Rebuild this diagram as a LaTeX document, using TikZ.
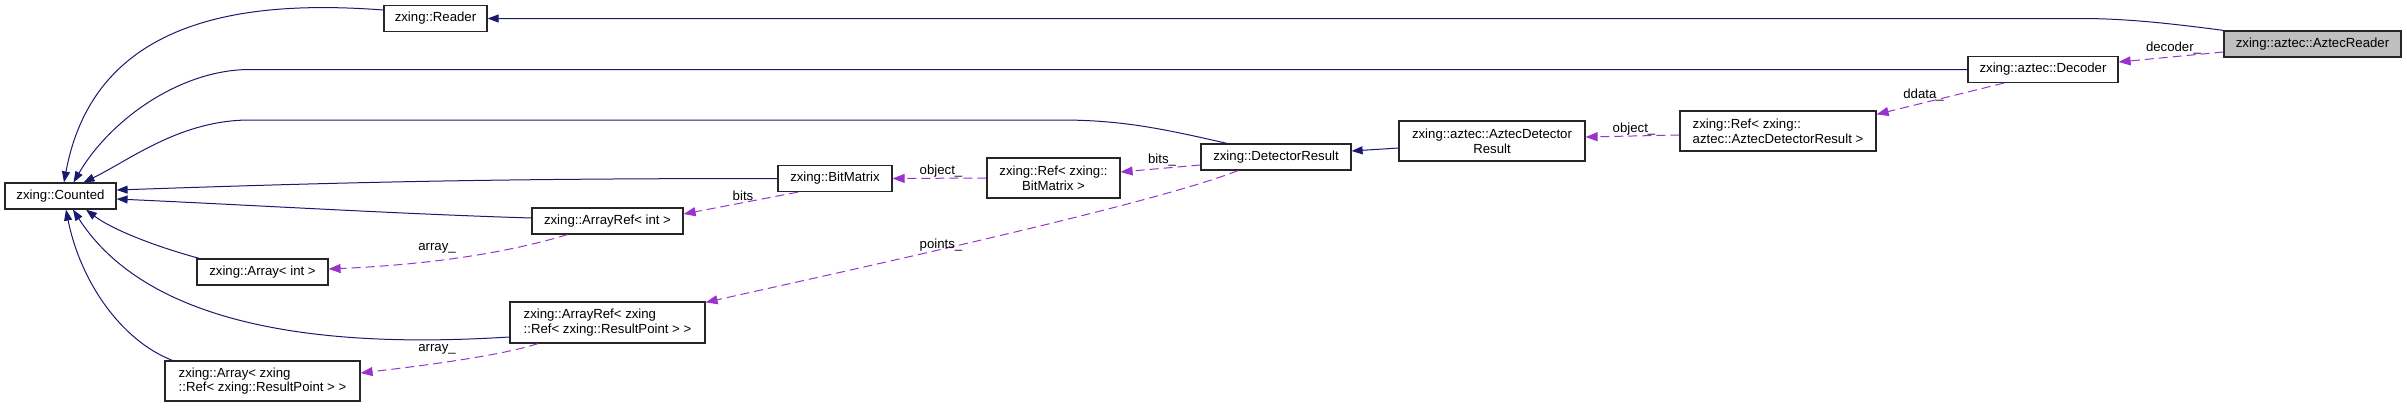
\documentclass[tikz,border=0pt]{standalone}
\usepackage{fontspec}
\setmainfont{Liberation Sans}
\usetikzlibrary{arrows.meta}
\definecolor{mblue}{HTML}{191970}
\definecolor{dorchid}{HTML}{9A32CD}
\definecolor{rgray}{HTML}{BFBFBF}

\begin{document}
\begin{tikzpicture}[x=1pt,y=-1pt,font=\fontsize{13.2}{14.7}\selectfont,
  cls/.style={draw=black!85,fill=white,line width=1.2pt,inner sep=0pt,
    minimum width=#1,minimum height=26pt},
  inherit/.style={draw=mblue,line width=1pt,-{Triangle[length=11pt,width=8pt]}},
  usage/.style={draw=dorchid,line width=1pt,dash pattern=on 9pt off 5pt,
    -{Triangle[length=12pt,width=9pt]}},
  lbl/.style={inner sep=0pt}]
  \useasboundingbox (0,0) rectangle (2407,407);

  % classes
  \node[cls=111pt] (counted) at (60.5,196) {zxing::Counted};
  \node[cls=103pt] (reader) at (435.5,18.5) {zxing::Reader};
  \node[cls=131pt] (arrint) at (262.5,272) {zxing::Array< int >};
  \node[cls=195pt,minimum height=40pt,align=left] (arrrp) at (262.5,381)
    {zxing::Array< zxing\\::Ref< zxing::ResultPoint > >};
  \node[cls=151pt] (arefint) at (607.5,221) {zxing::ArrayRef< int >};
  \node[cls=195pt,minimum height=41pt,align=left] (arefrp) at (607.5,322.5)
    {zxing::ArrayRef< zxing\\::Ref< zxing::ResultPoint > >};
  \node[cls=114pt] (bitmatrix) at (835,178.5) {zxing::BitMatrix};
  \node[cls=133pt,minimum height=40pt,align=center] (refbm) at (1053.5,178)
    {zxing::Ref< zxing::\\BitMatrix >};
  \node[cls=150pt] (detres) at (1276,157) {zxing::DetectorResult};
  \node[cls=186pt,minimum height=40pt,align=center] (aztdetres) at (1492,141)
    {zxing::aztec::AztecDetector\\Result};
  \node[cls=196pt,minimum height=40pt,align=left] (refadr) at (1778,131)
    {zxing::Ref< zxing::\\aztec::AztecDetectorResult >};
  \node[cls=150pt] (decoder) at (2043,69.5) {zxing::aztec::Decoder};
  \node[cls=177pt,fill=rgray] (aztreader) at (2312.5,44) {zxing::aztec::AztecReader};

  % inheritance
  \draw[inherit] ([yshift=8.5pt]reader.west) .. controls (250,0) and (95,15)
    .. ([xshift=3.5pt]counted.north);
  \draw[inherit] (decoder.west) -- (250,69.5) .. controls (180,69.5) and (110,120)
    .. ([xshift=13pt]counted.north);
  \draw[inherit] ([xshift=-49pt]detres.north) .. controls (1160,128) and (1120,120)
    .. (1060,120) -- (250,120) .. controls (180,120) and (130,160)
    .. ([xshift=23pt]counted.north);
  \draw[inherit] (aztreader.north west) .. controls (2160,22) and (2120,18.5)
    .. (2080,18.5) -- (reader.east);
  \draw[inherit] (bitmatrix.west) .. controls (500,178.5) and (350,182)
    .. ([yshift=6pt]counted.east);
  \draw[inherit] ([yshift=3pt]arefint.west) .. controls (400,214) and (250,205)
    .. ([yshift=-3pt]counted.east);
  \draw[inherit] ([xshift=3pt]arrint.north west) .. controls (150,245) and (110,228)
    .. ([xshift=25.5pt]counted.south);
  \draw[inherit] ([yshift=-14.5pt]arefrp.west) .. controls (380,345) and (160,345)
    .. ([xshift=12.5pt]counted.south);
  \draw[inherit] ([xshift=8pt]arrrp.north west) .. controls (120,340) and (80,280)
    .. ([xshift=5.5pt]counted.south);
  \draw[inherit] ([yshift=-7pt]aztdetres.west) -- ([yshift=6pt]detres.east);

  % members
  \draw[usage] ([yshift=-8pt]aztreader.west) -- ([yshift=7.5pt]decoder.east);
  \draw[usage] ([xshift=-39pt]decoder.south) -- ([yshift=-4pt]refadr.north east);
  \draw[usage] ([yshift=-4pt]refadr.west) -- ([yshift=4pt]aztdetres.east);
  \draw[usage] ([yshift=-8pt]detres.west) -- ([yshift=6pt]refbm.east);
  \draw[usage] (refbm.west) -- (bitmatrix.east);
  \draw[usage] ([xshift=-37pt]bitmatrix.south) -- ([yshift=7pt]arefint.east);
  \draw[usage] ([xshift=-40pt]arefint.south) .. controls (500,255) and (420,265)
    .. ([yshift=3pt]arrint.east);
  \draw[usage] ([xshift=-38pt]detres.south) .. controls (1150,205) and (850,270)
    .. ([yshift=-1pt]arefrp.north east);
  \draw[usage] ([xshift=-69.5pt]arefrp.south) .. controls (500,356) and (420,366)
    .. ([yshift=8pt]arrrp.east);

  \node[lbl] (ldecoder) at (2173.5,48) {decoder\_};
  \node[lbl] (lddata) at (1923.5,95) {ddata\_};
  \node[lbl] (lobjadr) at (1634,129) {object\_};
  \node[lbl] (lbitsdr) at (1162,160) {bits\_};
  \node[lbl] (lobjbm) at (941,171.5) {object\_};
  \node[lbl] (lbits) at (743,195.5) {bits};
  \node[lbl] (larrint) at (437,248) {array\_};
  \node[lbl] (lpoints) at (941,245) {points\_};
  \node[lbl] (larrrp) at (437,349) {array\_};
\end{tikzpicture}
\end{document}
